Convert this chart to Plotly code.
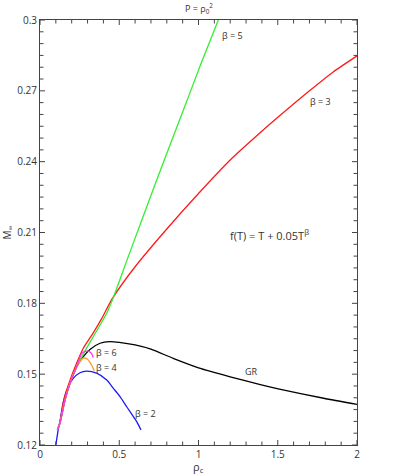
import plotly.graph_objects as go

# ---- data ----
trunk_x = [0.11, 0.126, 0.158, 0.189, 0.232]
trunk_y = [0.1265, 0.1293, 0.1391, 0.1461, 0.1532]

gr_x = trunk_x + [0.273, 0.315, 0.379, 0.44, 0.5, 0.6, 0.7, 0.84, 1.0, 1.2, 1.39, 1.51, 1.79, 2.0]
gr_y = trunk_y + [0.1574, 0.1605, 0.1631, 0.1638, 0.1635, 0.1624, 0.1606, 0.1567, 0.1527, 0.1489, 0.1456, 0.1437, 0.1398, 0.1372]

b2_x = [0.1, 0.115, 0.126, 0.145, 0.168, 0.21, 0.252, 0.294, 0.357, 0.421, 0.463, 0.505, 0.547, 0.61, 0.637]
b2_y = [0.12, 0.1265, 0.1300, 0.1375, 0.1430, 0.1482, 0.1506, 0.1513, 0.1504, 0.1475, 0.1440, 0.1405, 0.1362, 0.1299, 0.1264]

b3_x = [0.11, 0.126, 0.15, 0.19, 0.232, 0.273, 0.336, 0.389, 0.456, 0.6, 0.8, 1.0, 1.2, 1.41, 1.51, 1.7, 1.85, 2.0]
b3_y = [0.1265, 0.1295, 0.139, 0.1475, 0.1548, 0.161, 0.1675, 0.1735, 0.182, 0.1955, 0.2115, 0.2265, 0.2407, 0.2535, 0.2593, 0.2700, 0.2780, 0.2848]

b4_x = trunk_x + [0.25, 0.273, 0.3, 0.32, 0.343]
b4_y = trunk_y + [0.1552, 0.1568, 0.1563, 0.1545, 0.1515]

b5_x = trunk_x + [0.273, 0.336, 0.421, 0.46, 0.55, 0.65, 0.78, 0.9, 1.01, 1.125]
b5_y = trunk_y + [0.1585, 0.1659, 0.1758, 0.182, 0.1985, 0.2167, 0.2400, 0.2610, 0.2805, 0.3]

b6_x = trunk_x + [0.263, 0.285, 0.305, 0.325, 0.336]
b6_y = trunk_y + [0.1588, 0.1597, 0.1598, 0.1588, 0.1571]

x_range = [0, 2]
y_range = [0.12, 0.3]
x_tick_step, x_minor_step = 0.5, 0.1
y_tick_step, y_minor_step = 0.03, 0.005

series = [
    (gr_x, gr_y, "#000000", "GR"),
    (b2_x, b2_y, "#1a1aff", "β = 2"),
    (b3_x, b3_y, "#ff1a1a", "β = 3"),
    (b5_x, b5_y, "#33ee33", "β = 5"),
    (b4_x, b4_y, "#ff9933", "β = 4"),
    (b6_x, b6_y, "#ff33ee", "β = 6"),
]

FONT = "Open Sans"
TXT = "#333333"
AX = "#444444"
MAJOR_LEN, MINOR_LEN = 5, 3.5          # tick lengths in pixels
W, H = 399, 476
M = dict(l=40, r=42, t=20, b=31)
PLOT_W = W - M["l"] - M["r"]
PLOT_H = H - M["t"] - M["b"]

fig = go.Figure()
for xs, ys, col, name in series:
    fig.add_trace(go.Scatter(x=xs, y=ys, mode="lines", name=name,
                             line=dict(color=col, width=1.3, shape="spline", smoothing=0.6),
                             showlegend=False, hoverinfo="skip"))


def tick_values(lo, hi, step):
    n = int(round((hi - lo) / step))
    return [round(lo + i * step, 6) for i in range(n + 1)]


def is_major(v, lo, step):
    k = (v - lo) / step
    return abs(k - round(k)) < 1e-6


# inside tick marks on all four sides, drawn as one line trace from the axes' tick values
px_x = (x_range[1] - x_range[0]) / PLOT_W   # data units per pixel
px_y = (y_range[1] - y_range[0]) / PLOT_H
tx, ty = [], []
for v in tick_values(x_range[0], x_range[1], x_minor_step):
    L = (MAJOR_LEN if is_major(v, x_range[0], x_tick_step) else MINOR_LEN) * px_y
    tx += [v, v, None, v, v, None]
    ty += [y_range[0], y_range[0] + L, None, y_range[1], y_range[1] - L, None]
for v in tick_values(y_range[0], y_range[1], y_minor_step):
    L = (MAJOR_LEN if is_major(v, y_range[0], y_tick_step) else MINOR_LEN) * px_x
    tx += [x_range[0], x_range[0] + L, None, x_range[1], x_range[1] - L, None]
    ty += [v, v, None, v, v, None]
fig.add_trace(go.Scatter(x=tx, y=ty, mode="lines", line=dict(color=AX, width=1),
                         showlegend=False, hoverinfo="skip", connectgaps=False))

labels = [
    (1.214, 0.2934, "β = 5"),
    (1.767, 0.2653, "β = 3"),
    (0.42, 0.159, "β = 6"),
    (0.42, 0.1527, "β = 4"),
    (0.665, 0.1334, "β = 2"),
    (1.335, 0.1513, "GR"),
]
for x, y, t in labels:
    fig.add_annotation(x=x, y=y, text=t, showarrow=False,
                       font=dict(family=FONT, size=9, color=TXT))

fig.add_annotation(x=1.451, y=0.2089, text="f(T) = T + 0.05T<sup>β</sup>", showarrow=False,
                   font=dict(family=FONT, size=11, color=TXT))

# top title
fig.add_annotation(x=0.5, y=1.0, xref="paper", yref="paper", yshift=12, yanchor="middle",
                   text="P = ρ<sub>0</sub><sup>2</sup>", showarrow=False,
                   font=dict(family=FONT, size=9, color=TXT))
# x title
fig.add_annotation(x=0.5, y=0.0, xref="paper", yref="paper", yshift=-22, yanchor="middle",
                   text="ρ<sub>c</sub>", showarrow=False,
                   font=dict(family=FONT, size=11, color=TXT))
# y title
fig.add_annotation(x=0.0, y=0.5, xref="paper", yref="paper", xshift=-33, xanchor="center",
                   yanchor="middle", textangle=-90,
                   text="M<sub>∞</sub>", showarrow=False,
                   font=dict(family=FONT, size=10, color=TXT))

axis_common = dict(
    showline=True, linecolor=AX, linewidth=1, mirror=True, ticks="",
    showgrid=False, zeroline=False, automargin=False,
    tickfont=dict(family=FONT, size=10, color=TXT),
)

fig.update_layout(
    xaxis=dict(range=x_range, tickmode="linear", tick0=x_range[0], dtick=x_tick_step, **axis_common),
    yaxis=dict(range=y_range, tickmode="linear", tick0=y_range[0], dtick=y_tick_step, **axis_common),
    width=W, height=H,
    margin=M,
    plot_bgcolor="white", paper_bgcolor="white",
    font=dict(family=FONT, color=TXT),
    hovermode=False,
)

fig.write_html("out.html", config={"displayModeBar": False, "staticPlot": True},
               post_script="document.body.style.margin='0';")
